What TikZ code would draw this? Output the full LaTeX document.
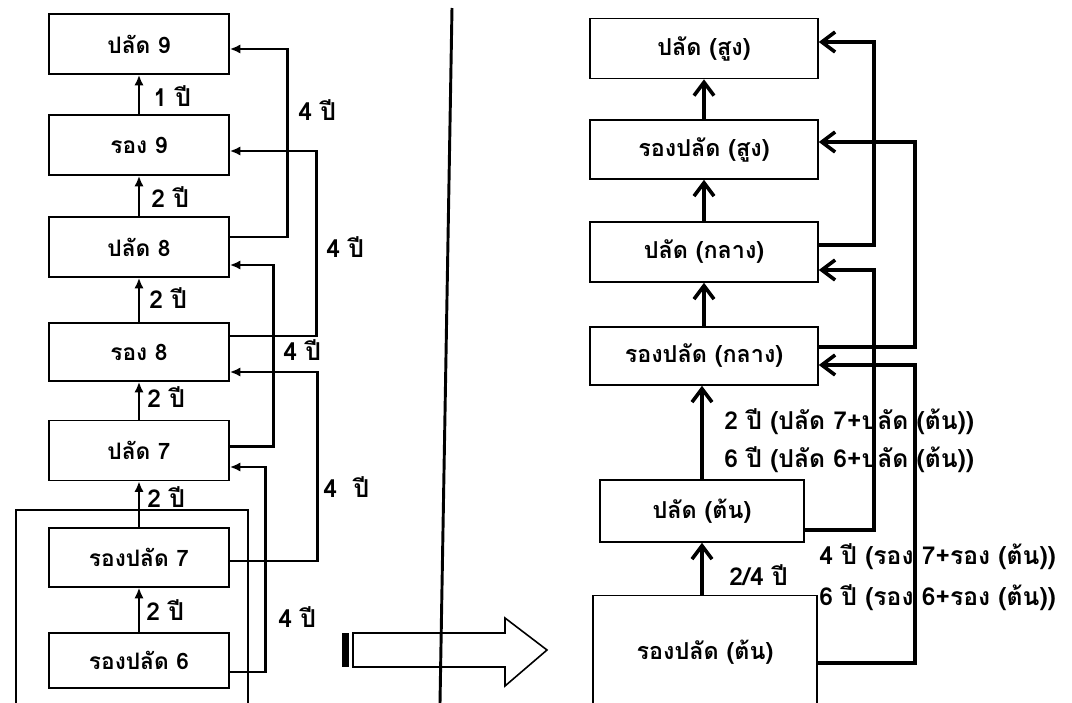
\documentclass[tikz,border=0pt]{standalone}
\usepackage{fontspec}
\newfontfamily\thaifont[Script=Thai]{Loma}
\usetikzlibrary{arrows.meta,calc}

\begin{document}
\begin{tikzpicture}[x=0.75pt,y=0.75pt,yscale=-1,
  box/.style={draw,line width=1.2pt,inner sep=0pt,minimum width=135pt,minimum height=45pt,font=\thaifont\bfseries\fontsize{17}{20}\selectfont},
  rbox/.style={box,minimum width=171pt,font=\thaifont\bfseries\fontsize{17.5}{20}\selectfont},
  lab/.style={anchor=west,inner sep=0.75pt,font=\thaifont\bfseries\fontsize{18.5}{21}\selectfont},
  lup/.style={line width=2pt,-{Latex[length=8pt,width=7pt]}},
  rup/.style={line width=2.7pt,-{Straight Barb[length=10pt,width=15pt]}}]
\useasboundingbox (0,0) rectangle (1072,703);

%Left column boxes
\node[box] (p9) at (139,44) {ปลัด 9};
\node[box] (r9) at (139,145) {รอง 9};
\node[box] (p8) at (139,247) {ปลัด 8};
\node[box,minimum height=43.5pt] (r8) at (139,352) {รอง 8};
\node[box] (p7) at (139,450.5) {ปลัด 7};
\node[box,minimum height=44pt] (rp7) at (139,557.5) {รองปลัด 7};
\node[box,minimum height=41.25pt] (rp6) at (139,660.5) {รองปลัด 6};

%Frame round the two lowest boxes
\draw[line width=1.2pt] (16,720) -- (16,510) -- (248,510) -- (248,720);

%Left column, one step up
\draw[lup] (r9.north) -- (p9.south);
\draw[lup] (p8.north) -- (r9.south);
\draw[lup] (r8.north) -- (p8.south);
\draw[lup] (p7.north) -- (r8.south);
\draw[lup] (rp7.north) -- (p7.south);
\draw[lup] (rp6.north) -- (rp7.south);

% Text Node
\node[lab] (t1) at (152,96) {1 ปี};
\node[lab] (t2) at (150,197) {2 ปี};
\node[lab] (t3) at (148,298) {2 ปี};
\node[lab] (t4) at (146,397) {2 ปี};
\node[lab] (t5) at (146,497) {2 ปี};
\node[lab] (t6) at (145,610) {2 ปี};

%Left column, jumps of four years
\draw[lup] ($(p8.east)+(0,-10)$) -| ($(p9.east)+(58,5)$) -- ($(p9.east)+(0,5)$);
\draw[lup] ($(r8.east)+(0,-16)$) -| ($(r9.east)+(87,6)$) -- ($(r9.east)+(0,6)$);
\draw[lup] ($(p7.east)+(0,-4)$) -| ($(p8.east)+(44,18)$) -- ($(p8.east)+(0,18)$);
\draw[lup] ($(rp7.east)+(0,3.5)$) -| ($(r8.east)+(88,20)$) -- ($(r8.east)+(0,20)$);
\draw[lup] ($(rp6.east)+(0,11.5)$) -| ($(p7.east)+(36,16.5)$) -- ($(p7.east)+(0,16.5)$);

% Text Node
\node[lab] (f1) at (297,110) {4 ปี};
\node[lab] (f2) at (325,247) {4 ปี};
\node[lab] (f3) at (282,350) {4 ปี};
\node[lab] (f4) at (322,487) {4 \ ปี};
\node[lab] (f5) at (277,617) {4 ปี};

%Divider
\draw[line width=2.2pt] (452,8) -- (440,703);

%Shape: hollow arrow
\draw[line width=1.2pt] (353,633) -- (505,633) -- (505,618) -- (547,650) -- (505,686) -- (505,667) -- (353,667) -- cycle;
\fill (342,633) rectangle (349,667);

%Right column boxes
\node[rbox] (ps) at (704,48.5) {ปลัด (สูง)};
\node[rbox,minimum height=44.25pt] (rs) at (704,149.5) {รองปลัด (สูง)};
\node[rbox] (pm) at (704,252) {ปลัด (กลาง)};
\node[rbox,minimum height=43.5pt] (rm) at (704,356) {รองปลัด (กลาง)};
\node[rbox,minimum width=153pt,minimum height=46.5pt] (pt) at (702,511) {ปลัด (ต้น)};
\node[rbox,minimum width=168pt,minimum height=85pt] (rt) at (705,652) {รองปลัด (ต้น)};

%Right column, one step up
\draw[rup] (rs.north) -- (rs.north |- ps.south);
\draw[rup] (pm.north) -- (pm.north |- rs.south);
\draw[rup] (rm.north) -- (rm.north |- pm.south);
\draw[rup] (pt.north) -- (pt.north |- rm.south);
\draw[rup] (rt.north -| pt.north) -- (pt.south);

%Right column, jumps
\draw[rup] ($(pm.east)+(0,-7)$) -| ($(ps.east)+(55,-6.5)$) -- ($(ps.east)+(0,-6.5)$);
\draw[rup] ($(rm.east)+(0,-9)$) -| ($(rs.east)+(96,-7.5)$) -- ($(rs.east)+(0,-7.5)$);
\draw[rup] ($(pt.east)+(0,19)$) -| ($(pm.east)+(55,18)$) -- ($(pm.east)+(0,18)$);
\draw[rup] ($(rt.east)+(0,11)$) -| ($(rm.east)+(96,9)$) -- ($(rm.east)+(0,9)$);

% Text Node
\node[lab] (n1) at (723,422) {2 ปี (ปลัด 7+ปลัด (ต้น))};
\node[lab] (n2) at (723,460) {6 ปี (ปลัด 6+ปลัด (ต้น))};
\node[lab] (n3) at (728,575) {2/4 ปี};
\node[lab] (n4) at (818,557) {4 ปี (รอง 7+รอง (ต้น))};
\node[lab] (n5) at (818,598) {6 ปี (รอง 6+รอง (ต้น))};

\end{tikzpicture}
\end{document}
